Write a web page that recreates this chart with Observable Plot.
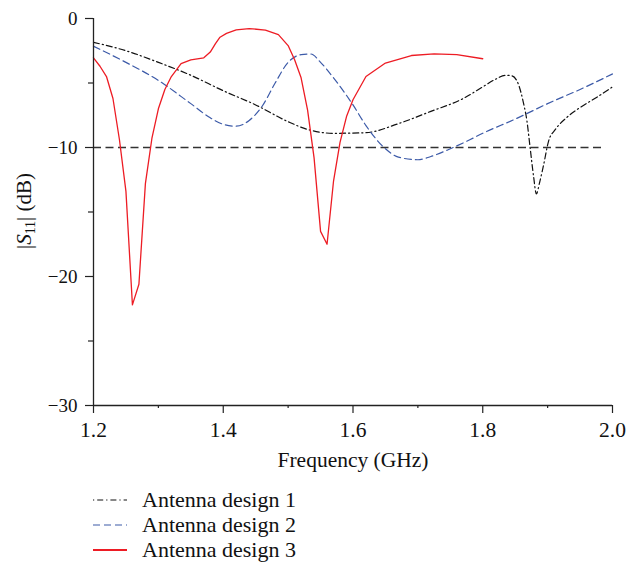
<!DOCTYPE html>
<html>
<head>
<meta charset="utf-8">
<script src="https://cdn.jsdelivr.net/npm/d3@7"></script>
<script src="https://cdn.jsdelivr.net/npm/@observablehq/plot@0.6"></script>
<style>
  html, body { margin: 0; padding: 0; background: #fff; }
  #chart { width: 638px; }
  .legend { font-family: "Liberation Serif", serif; font-size: 22px; color: #111; padding: 9px 0 0 93px; }
  .legend .row { display: flex; align-items: center; height: 25px; }
  .legend svg { width: 34px; height: 10px; margin-right: 15px; }
</style>
</head>
<body>
<div id="chart"></div>
<script>
// Return loss |S11| (dB) versus frequency (GHz) for three antenna designs
const freq1 = [1.20, 1.25, 1.30, 1.35, 1.40, 1.45, 1.50, 1.53, 1.57, 1.62, 1.67, 1.72, 1.77, 1.80, 1.82, 1.835, 1.845, 1.855, 1.863, 1.868, 1.873, 1.8785, 1.8826, 1.8877, 1.894, 1.9015, 1.912, 1.93, 1.95, 1.976, 2.00];
const s11Design1 = [-1.85, -2.5, -3.4, -4.4, -5.6, -6.7, -8.0, -8.6, -8.9, -8.85, -8.15, -7.2, -6.2, -5.3, -4.7, -4.4, -4.45, -5.1, -6.6, -7.9, -10.0, -12.3, -13.6, -12.7, -11.3, -9.5, -8.6, -7.65, -6.9, -6.1, -5.3];

const freq2 = [1.20, 1.25, 1.30, 1.35, 1.38, 1.40, 1.42, 1.44, 1.46, 1.48, 1.50, 1.52, 1.535, 1.55, 1.57, 1.60, 1.62, 1.65, 1.67, 1.70, 1.72, 1.75, 1.78, 1.80, 1.85, 1.90, 1.95, 2.00];
const s11Design2 = [-2.15, -3.4, -4.8, -6.6, -7.7, -8.2, -8.35, -7.9, -6.8, -5.0, -3.4, -2.8, -2.75, -3.4, -4.6, -6.7, -8.3, -10.1, -10.75, -10.95, -10.7, -10.1, -9.4, -8.9, -7.8, -6.6, -5.5, -4.3];

const freq3 = [1.200, 1.210, 1.220, 1.230, 1.240, 1.250, 1.260, 1.270, 1.280, 1.290, 1.300, 1.310, 1.320, 1.335, 1.350, 1.370, 1.380, 1.388, 1.395, 1.405, 1.420, 1.440, 1.465, 1.485, 1.500, 1.510, 1.520, 1.530, 1.540, 1.550, 1.560, 1.570, 1.580, 1.590, 1.600, 1.620, 1.650, 1.690, 1.725, 1.760, 1.800];
const s11Design3 = [-3.05, -3.7, -4.5, -6.2, -9.4, -13.4, -22.2, -20.6, -12.8, -9.3, -7.0, -5.5, -4.5, -3.5, -3.2, -3.05, -2.6, -1.95, -1.45, -1.15, -0.88, -0.78, -0.9, -1.25, -2.1, -3.2, -4.6, -7.1, -10.8, -16.5, -17.5, -12.6, -9.6, -7.6, -6.3, -4.5, -3.45, -2.87, -2.74, -2.8, -3.12];

const threshold = [-10];
const seriesNames = ["Antenna design 1", "Antenna design 2", "Antenna design 3"];
const xTicks = [1.2, 1.4, 1.6, 1.8, 2.0];
const xMinorTicks = [1.3, 1.5, 1.7, 1.9];
const yTicks = [0, -10, -20, -30];
const yMinorTicks = [-5, -15, -25];

const colors = ["#111111", "#3c5aa8", "#ed1c24"];
const dashes = ["6,3,1.2,3", "7,4", null];
const widths = [1.2, 1.2, 1.3];

const toRows = (fs, vs) => fs.map((f, i) => ({f, s: vs[i]}));
const rows1 = toRows(freq1, s11Design1);
const rows2 = toRows(freq2, s11Design2);
const rows3 = toRows(freq3, s11Design3);

const axisColor = "#222";
const fmtY = d => d === 0 ? "0" : "\u2212" + Math.abs(d);

const plot = Plot.plot({
  width: 638,
  height: 478,
  marginLeft: 93,
  marginRight: 26,
  marginTop: 18,
  marginBottom: 73,
  style: {fontFamily: "Liberation Serif", fontSize: "19px", color: "#111", background: "#fff"},
  x: {domain: [1.2, 2.0]},
  y: {domain: [-30, 0]},
  marks: [
    Plot.ruleY(threshold, {x1: 1.2, x2: 1.99, stroke: "#333", strokeWidth: 1.3, strokeDasharray: "8,4.5"}),
    Plot.line(rows1, {x: "f", y: "s", stroke: colors[0], strokeWidth: widths[0], strokeDasharray: dashes[0], curve: "monotone-x"}),
    Plot.line(rows2, {x: "f", y: "s", stroke: colors[1], strokeWidth: widths[1], strokeDasharray: dashes[1], curve: "monotone-x"}),
    Plot.line(rows3, {x: "f", y: "s", stroke: colors[2], strokeWidth: widths[2], curve: "linear"}),
    Plot.axisX({ticks: xTicks, tickSize: 8, tickPadding: 8, tickFormat: d3.format(".1f"), stroke: axisColor, strokeWidth: 1.2,
      label: "Frequency (GHz)", labelAnchor: "center", labelArrow: "none", labelOffset: 61, fontSize: 21.5}),
    Plot.axisX({ticks: xMinorTicks, tickSize: 3, fill: "none", label: null, stroke: axisColor, strokeWidth: 1.2}),
    Plot.axisY({ticks: yTicks, tickSize: 8, tickPadding: 8, tickFormat: fmtY, stroke: axisColor, strokeWidth: 1.2, label: null}),
    Plot.axisY({ticks: yMinorTicks, tickSize: 5, fill: "none", label: null, stroke: axisColor, strokeWidth: 1.2}),
    Plot.ruleX([1.2], {stroke: axisColor, strokeWidth: 1.3}),
    Plot.ruleY([-30], {stroke: axisColor, strokeWidth: 1.3})
  ]
});

document.getElementById("chart").append(plot);

// Y-axis title with italic S and subscript 11, centred on the plot's vertical middle
const svg = d3.select(plot);
const yTitle = svg.append("text")
  .attr("fill", "#111")
  .attr("text-anchor", "start")
  .style("font-size", "21px");
yTitle.append("tspan").text("|");
yTitle.append("tspan").attr("font-style", "italic").text("S");
yTitle.append("tspan").attr("font-size", "14px").attr("dy", "4").text("11");
yTitle.append("tspan").attr("dy", "-4").text("| (dB)");
const titleLength = yTitle.node().getComputedTextLength();
yTitle.attr("transform", `translate(31, ${211 + titleLength / 2}) rotate(-90)`);

// Legend below the chart
const legend = d3.select("#chart").append("div").attr("class", "legend");
seriesNames.forEach((name, i) => {
  const row = legend.append("div").attr("class", "row");
  const sw = row.append("svg").attr("viewBox", "0 0 34 10");
  sw.append("line").attr("x1", 0).attr("x2", 34).attr("y1", 5).attr("y2", 5)
    .attr("stroke", colors[i]).attr("stroke-width", i === 2 ? 2 : 1.2)
    .attr("stroke-dasharray", dashes[i] === null ? null : (i === 0 ? "1.2,3,6,3" : "7,4"));
  row.append("span").text(name);
});
</script>
</body>
</html>
